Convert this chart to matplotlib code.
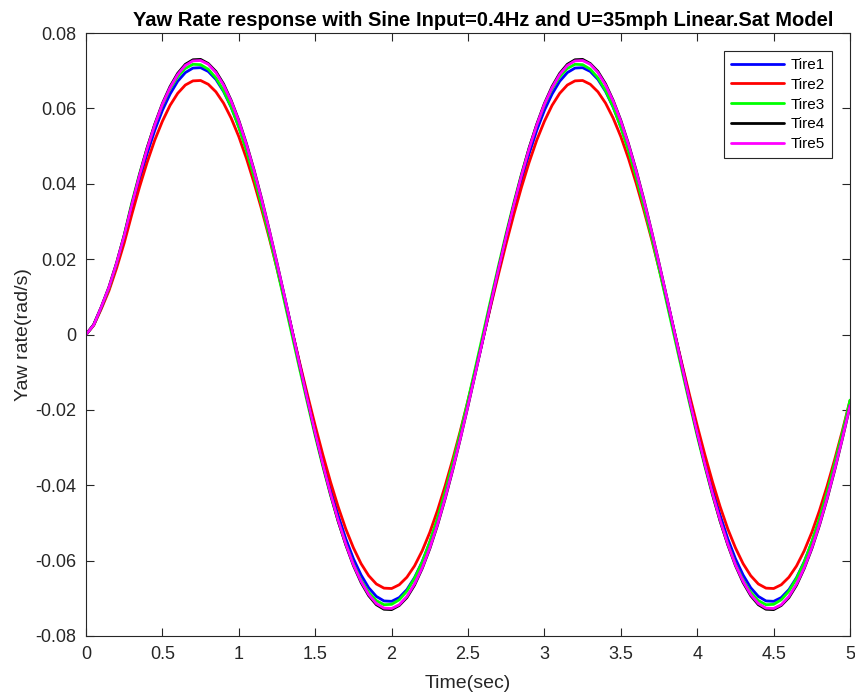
import matplotlib.pyplot as plt
import numpy as np

plt.rcParams['font.family'] = ['Liberation Sans', 'DejaVu Sans']

# time samples (s) and yaw rate of each tire model (rad/s)
time = np.linspace(0, 5, 101)

tire1 = [
    0.0, 0.0025, 0.0071, 0.0122, 0.0184, 0.0255,
    0.0335, 0.0411, 0.0480, 0.0542, 0.0595, 0.0638, 0.0672, 0.0695, 0.0707, 0.0708,
    0.0698, 0.0677, 0.0645, 0.0603, 0.0551, 0.0491, 0.0423, 0.0348, 0.0268,
    0.0183, 0.0096, 0.0007, -0.0081, -0.0169, -0.0254, -0.0335, -0.0411, -0.0480, -0.0542,
    -0.0595, -0.0638, -0.0672, -0.0695, -0.0707, -0.0708, -0.0698, -0.0677, -0.0645, -0.0603,
    -0.0551, -0.0491, -0.0423, -0.0348, -0.0268,
    -0.0183, -0.0096, -0.0007, 0.0081, 0.0169, 0.0254, 0.0335, 0.0411, 0.0480, 0.0542,
    0.0595, 0.0638, 0.0672, 0.0695, 0.0707, 0.0708, 0.0698, 0.0677, 0.0645, 0.0603,
    0.0551, 0.0491, 0.0423, 0.0348, 0.0268,
    0.0183, 0.0096, 0.0007, -0.0081, -0.0169, -0.0254, -0.0335, -0.0411, -0.0480, -0.0542,
    -0.0595, -0.0638, -0.0672, -0.0695, -0.0707, -0.0708, -0.0698, -0.0677, -0.0645, -0.0603,
    -0.0551, -0.0491, -0.0423, -0.0348, -0.0268,
    -0.0183,
]

tire2 = [
    0.0, 0.0024, 0.0068, 0.0116, 0.0176, 0.0243,
    0.0319, 0.0391, 0.0457, 0.0516, 0.0566, 0.0608, 0.0640, 0.0662, 0.0673, 0.0674,
    0.0664, 0.0644, 0.0614, 0.0574, 0.0525, 0.0467, 0.0402, 0.0331, 0.0255,
    0.0175, 0.0092, 0.0007, -0.0078, -0.0161, -0.0242, -0.0319, -0.0391, -0.0457, -0.0516,
    -0.0566, -0.0608, -0.0640, -0.0662, -0.0673, -0.0674, -0.0664, -0.0644, -0.0614, -0.0574,
    -0.0525, -0.0467, -0.0402, -0.0331, -0.0255,
    -0.0175, -0.0092, -0.0007, 0.0078, 0.0161, 0.0242, 0.0319, 0.0391, 0.0457, 0.0516,
    0.0566, 0.0608, 0.0640, 0.0662, 0.0673, 0.0674, 0.0664, 0.0644, 0.0614, 0.0574,
    0.0525, 0.0467, 0.0402, 0.0331, 0.0255,
    0.0175, 0.0092, 0.0007, -0.0078, -0.0161, -0.0242, -0.0319, -0.0391, -0.0457, -0.0516,
    -0.0566, -0.0608, -0.0640, -0.0662, -0.0673, -0.0674, -0.0664, -0.0644, -0.0614, -0.0574,
    -0.0525, -0.0467, -0.0402, -0.0331, -0.0255,
    -0.0175,
]

tire3 = [
    0.0, 0.0025, 0.0072, 0.0123, 0.0188, 0.0264,
    0.0350, 0.0426, 0.0495, 0.0556, 0.0609, 0.0652, 0.0684, 0.0706, 0.0717, 0.0716,
    0.0704, 0.0681, 0.0647, 0.0604, 0.0550, 0.0488, 0.0418, 0.0341, 0.0260,
    0.0174, 0.0085, -0.0005, -0.0095, -0.0183, -0.0269, -0.0350, -0.0426, -0.0495, -0.0556,
    -0.0609, -0.0652, -0.0684, -0.0706, -0.0717, -0.0716, -0.0704, -0.0681, -0.0647, -0.0604,
    -0.0550, -0.0488, -0.0418, -0.0341, -0.0260,
    -0.0174, -0.0085, 0.0005, 0.0095, 0.0183, 0.0269, 0.0350, 0.0426, 0.0495, 0.0556,
    0.0609, 0.0652, 0.0684, 0.0706, 0.0717, 0.0716, 0.0704, 0.0681, 0.0647, 0.0604,
    0.0550, 0.0488, 0.0418, 0.0341, 0.0260,
    0.0174, 0.0085, -0.0005, -0.0095, -0.0183, -0.0269, -0.0350, -0.0426, -0.0495, -0.0556,
    -0.0609, -0.0652, -0.0684, -0.0706, -0.0717, -0.0716, -0.0704, -0.0681, -0.0647, -0.0604,
    -0.0550, -0.0488, -0.0418, -0.0341, -0.0260,
    -0.0174,
]

tire4 = [
    0.0, 0.0026, 0.0073, 0.0126, 0.0190, 0.0263,
    0.0345, 0.0423, 0.0495, 0.0558, 0.0613, 0.0658, 0.0693, 0.0717, 0.0729, 0.0730,
    0.0719, 0.0698, 0.0665, 0.0621, 0.0568, 0.0506, 0.0436, 0.0359, 0.0276,
    0.0189, 0.0099, 0.0008, -0.0084, -0.0174, -0.0262, -0.0345, -0.0423, -0.0495, -0.0558,
    -0.0613, -0.0658, -0.0693, -0.0717, -0.0729, -0.0730, -0.0719, -0.0698, -0.0665, -0.0621,
    -0.0568, -0.0506, -0.0436, -0.0359, -0.0276,
    -0.0189, -0.0099, -0.0008, 0.0084, 0.0174, 0.0262, 0.0345, 0.0423, 0.0495, 0.0558,
    0.0613, 0.0658, 0.0693, 0.0717, 0.0729, 0.0730, 0.0719, 0.0698, 0.0665, 0.0621,
    0.0568, 0.0506, 0.0436, 0.0359, 0.0276,
    0.0189, 0.0099, 0.0008, -0.0084, -0.0174, -0.0262, -0.0345, -0.0423, -0.0495, -0.0558,
    -0.0613, -0.0658, -0.0693, -0.0717, -0.0729, -0.0730, -0.0719, -0.0698, -0.0665, -0.0621,
    -0.0568, -0.0506, -0.0436, -0.0359, -0.0276,
    -0.0189,
]

tire5 = [
    0.0, 0.0025, 0.0073, 0.0125, 0.0189, 0.0262,
    0.0344, 0.0422, 0.0493, 0.0556, 0.0611, 0.0655, 0.0690, 0.0714, 0.0726, 0.0727,
    0.0717, 0.0695, 0.0662, 0.0619, 0.0566, 0.0504, 0.0434, 0.0357, 0.0275,
    0.0188, 0.0099, 0.0008, -0.0084, -0.0174, -0.0261, -0.0344, -0.0422, -0.0493, -0.0556,
    -0.0611, -0.0655, -0.0690, -0.0714, -0.0726, -0.0727, -0.0717, -0.0695, -0.0662, -0.0619,
    -0.0566, -0.0504, -0.0434, -0.0357, -0.0275,
    -0.0188, -0.0099, -0.0008, 0.0084, 0.0174, 0.0261, 0.0344, 0.0422, 0.0493, 0.0556,
    0.0611, 0.0655, 0.0690, 0.0714, 0.0726, 0.0727, 0.0717, 0.0695, 0.0662, 0.0619,
    0.0566, 0.0504, 0.0434, 0.0357, 0.0275,
    0.0188, 0.0099, 0.0008, -0.0084, -0.0174, -0.0261, -0.0344, -0.0422, -0.0493, -0.0556,
    -0.0611, -0.0655, -0.0690, -0.0714, -0.0726, -0.0727, -0.0717, -0.0695, -0.0662, -0.0619,
    -0.0566, -0.0504, -0.0434, -0.0357, -0.0275,
    -0.0188,
]

labels = ['Tire1', 'Tire2', 'Tire3', 'Tire4', 'Tire5']
colors = ['#0000ff', '#ff0000', '#00ff00', '#000000', '#ff00ff']

fig = plt.figure(figsize=(8.55, 6.95), dpi=100)
ax = fig.add_axes([0.1006, 0.0849, 0.8936, 0.8676])

for y, lab, c in zip([tire1, tire2, tire3, tire4, tire5], labels, colors):
    ax.plot(time, y, color=c, lw=2, label=lab,
            solid_joinstyle='round', solid_capstyle='round')

ax.set_xlim(0, 5)
ax.set_ylim(-0.08, 0.08)
ax.set_xticks(np.arange(0, 5.01, 0.5))
ax.set_yticks(np.arange(-0.08, 0.0801, 0.02))
ax.set_xticklabels(['0', '0.5', '1', '1.5', '2', '2.5', '3', '3.5', '4', '4.5', '5'])
ax.set_yticklabels(['-0.08', '-0.06', '-0.04', '-0.02', '0', '0.02', '0.04', '0.06', '0.08'])

# MATLAB-like box with inward ticks on all four sides
ax.tick_params(direction='in', top=True, right=True, length=6, width=0.8,
               colors='#262626', labelsize=13, pad=7)
for s in ax.spines.values():
    s.set_color('#262626')
    s.set_linewidth(0.8)

ax.set_xlabel('Time(sec)', fontsize=14, color='#262626', labelpad=9)
ax.set_ylabel('Yaw rate(rad/s)', fontsize=14, color='#262626', labelpad=2)
ax.set_title('Yaw Rate response with Sine Input=0.4Hz and U=35mph Linear.Sat Model',
             fontsize=14.5, fontweight='bold', pad=5, x=0.52)

leg = ax.legend(loc='upper right', bbox_to_anchor=(0.976, 0.970), fontsize=11,
                handlelength=3.5, handletextpad=0.4, labelspacing=0.38,
                borderpad=0.45, fancybox=False, framealpha=1, borderaxespad=0)
leg.get_frame().set_edgecolor('#262626')
leg.get_frame().set_linewidth(0.8)

fig.savefig('out.png', dpi=100)
